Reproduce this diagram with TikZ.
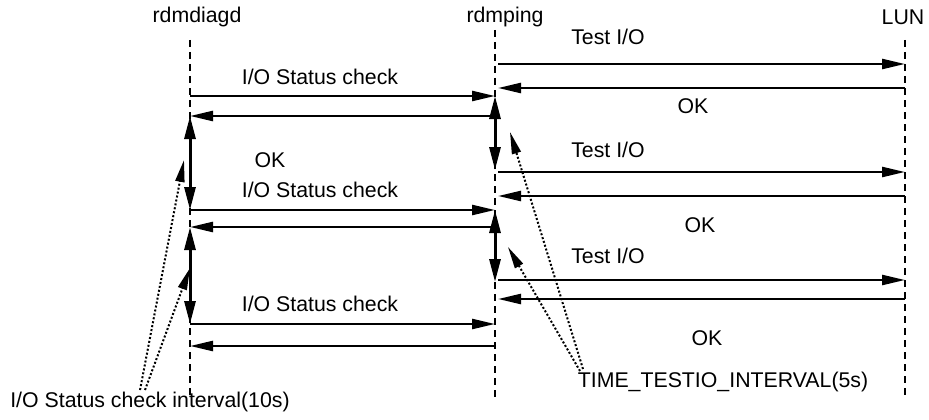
\documentclass[tikz,border=0pt]{standalone}
\usepackage{fontspec}
\setmainfont{Liberation Sans}
\usetikzlibrary{arrows.meta}

\begin{document}
\begin{tikzpicture}[yscale=-1
,pstyle0/.style={color=black,line width=1.5pt,dash pattern=on 7pt off 5pt}
,pstyle1/.style={color=black,line width=2.4pt,-{Triangle[length=23pt,width=10pt]}}
,pstyle2/.style={color=black,line width=3.0pt,{Triangle[length=23pt,width=11pt]}-{Triangle[length=23pt,width=11pt]}}
,pstyle3/.style={color=black,line width=2.0pt,dash pattern=on 2pt off 2pt,-{Triangle[length=22pt,width=9pt]}}
,pstyle4/.style={color=black,inner sep=0pt,font=\fontsize{21.3}{25}\selectfont}
]
\useasboundingbox (0pt,0pt) rectangle (929pt,420pt);
\node (diag) at (197pt,17pt)[pstyle4]{rdmdiagd};
\node (ping) at (505pt,17pt)[pstyle4]{rdmping};
\node (lun) at (903pt,17pt)[pstyle4]{LUN};
\coordinate (diagend) at (190pt,395pt);
\coordinate (pingend) at (495pt,400pt);
\coordinate (lunend) at (905pt,397pt);
\draw[pstyle0] (190pt,40pt) -- (diagend);
\draw[pstyle0] (495pt,30pt) -- (pingend);
\draw[pstyle0] (905pt,40pt) -- (lunend);
% message end points
\foreach \n/\y in {a/96,b/116,c/210,d/227,e/324,f/346}{
  \coordinate (d\n) at (190pt,\y pt);
  \coordinate (p\n) at (495pt,\y pt);
}
\foreach \n/\y in {a/64,b/88,c/172,d/196,e/280,f/299}{
  \coordinate (q\n) at (498pt,\y pt);
  \coordinate (l\n) at (905pt,\y pt);
}
\draw[pstyle1] (da) -- (pa);
\draw[pstyle1] (pb) -- (db);
\draw[pstyle1] (dc) -- (pc);
\draw[pstyle1] (pd) -- (dd);
\draw[pstyle1] (de) -- (pe);
\draw[pstyle1] (pf) -- (df);
\draw[pstyle1] (qa) -- (la);
\draw[pstyle1] (lb) -- (qb);
\draw[pstyle1] (qc) -- (lc);
\draw[pstyle1] (ld) -- (qd);
\draw[pstyle1] (qe) -- (le);
\draw[pstyle1] (lf) -- (qf);
\node (chk1) at (320pt,77pt)[pstyle4]{I/O Status check};
\node (chk2) at (320pt,190pt)[pstyle4]{I/O Status check};
\node (chk3) at (320pt,304pt)[pstyle4]{I/O Status check};
\node (ok0) at (270pt,160pt)[pstyle4]{OK};
\node (tio1) at (608pt,37pt)[pstyle4]{Test I/O};
\node (tio2) at (608pt,150pt)[pstyle4]{Test I/O};
\node (tio3) at (608pt,256pt)[pstyle4]{Test I/O};
\node (ok1) at (693pt,106pt)[pstyle4]{OK};
\node (ok2) at (700pt,225pt)[pstyle4]{OK};
\node (ok3) at (707pt,338pt)[pstyle4]{OK};
% intervals
\coordinate (pa2) at (495pt,96pt);
\coordinate (qc2) at (495pt,170pt);
\coordinate (pc2) at (495pt,210pt);
\coordinate (qe2) at (495pt,282pt);
\draw[pstyle2] (db) -- (dc);
\draw[pstyle2] (dd) -- (de);
\draw[pstyle2] (pa2) -- (qc2);
\draw[pstyle2] (pc2) -- (qe2);
\node (note1) at (150pt,402pt)[pstyle4]{I/O Status check interval(10s)};
\node (note2) at (723pt,382pt)[pstyle4]{TIME\_TESTIO\_INTERVAL(5s)};
\coordinate (n1a) at (140pt,390pt);
\coordinate (n1b) at (145pt,390pt);
\coordinate (t1a) at (184pt,160pt);
\coordinate (t1b) at (190pt,268pt);
\coordinate (n2a) at (583pt,369pt);
\coordinate (n2b) at (580pt,371pt);
\coordinate (t2a) at (510pt,132pt);
\coordinate (t2b) at (508pt,247pt);
\draw[pstyle3] (n1a) -- (t1a);
\draw[pstyle3] (n1b) -- (t1b);
\draw[pstyle3] (n2a) -- (t2a);
\draw[pstyle3] (n2b) -- (t2b);
\end{tikzpicture}
\end{document}
